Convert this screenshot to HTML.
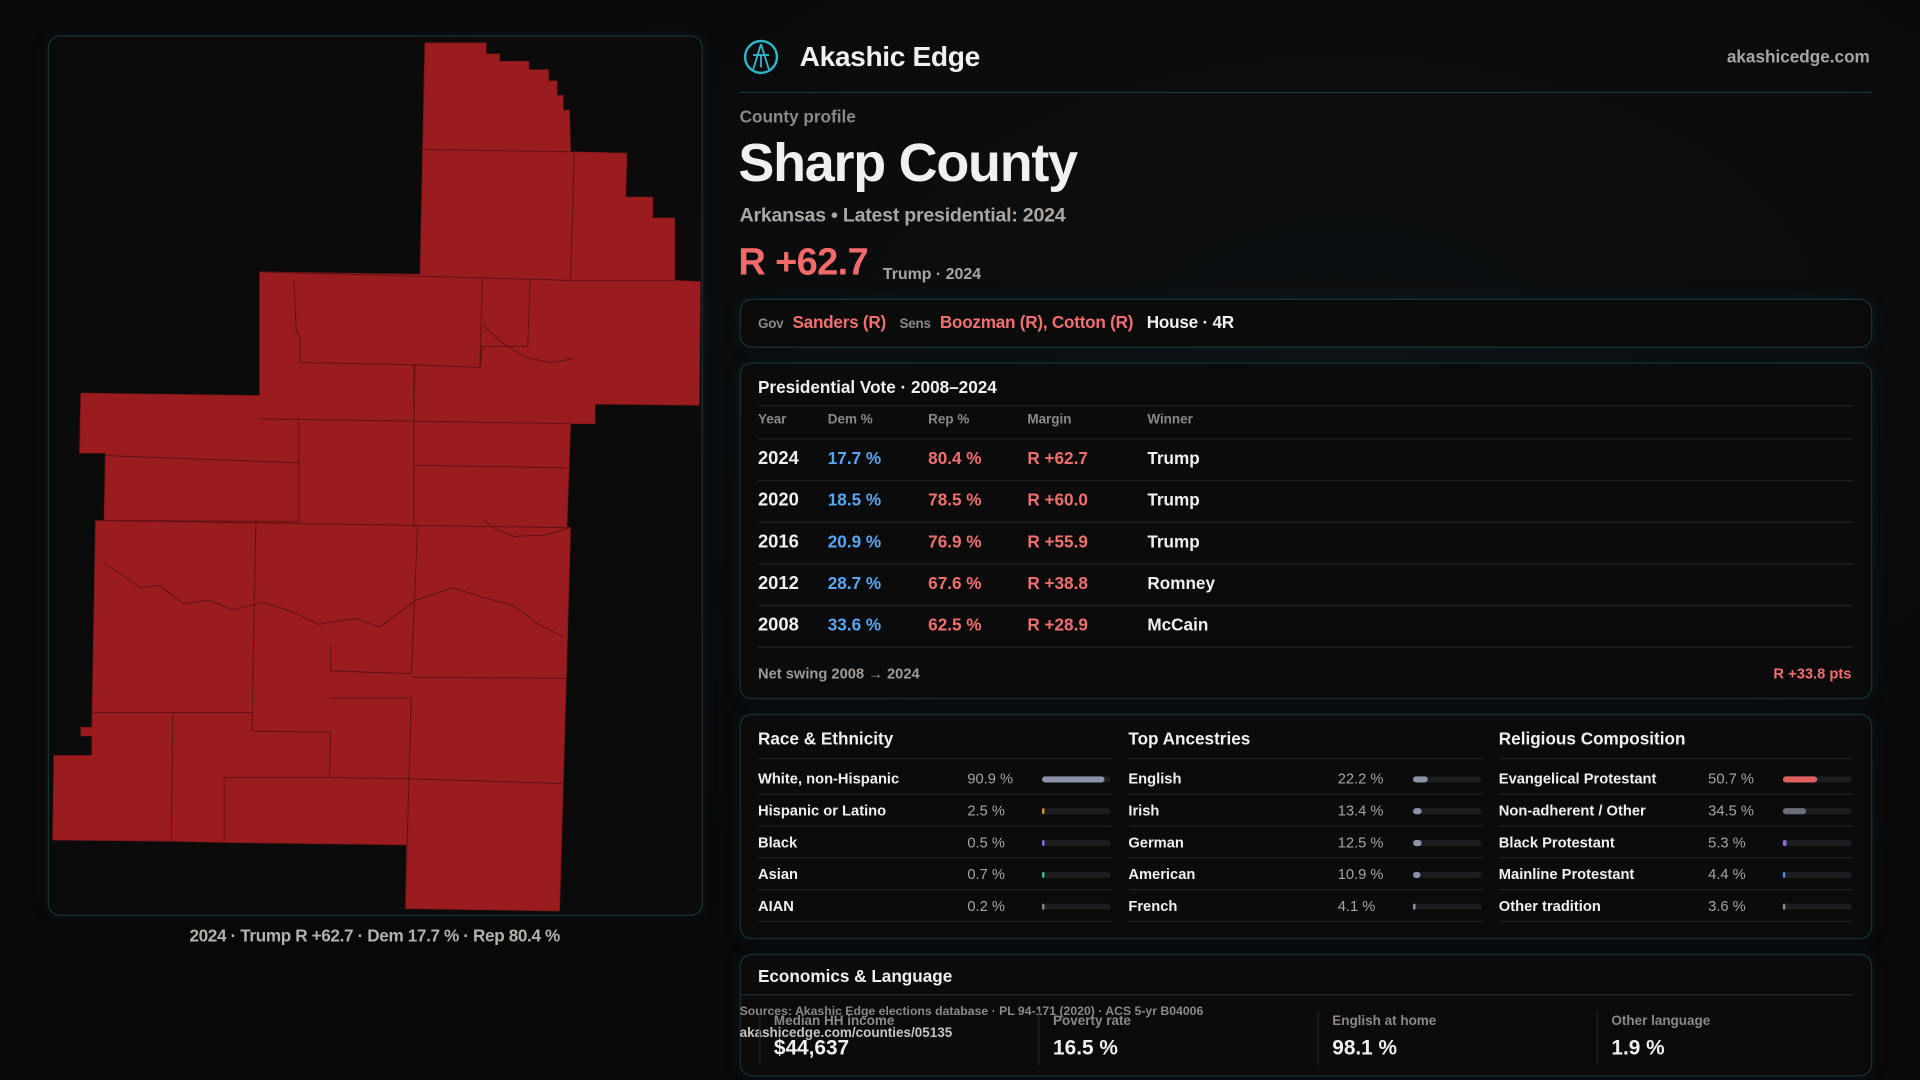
<!DOCTYPE html>
<html><head><meta charset="utf-8">
<style>
html,body{margin:0;padding:0;background:#080809;width:1920px;height:1080px;overflow:hidden}
#root{position:absolute;left:0;top:0;width:1568px;height:882px;transform:scale(1.22449);transform-origin:0 0;font-family:"Liberation Sans",sans-serif;color:#f2f0ee;background:radial-gradient(ellipse at 70% 30%,#0d1012 0%,#080809 60%)}
.abs{position:absolute;white-space:nowrap}
.panel{position:absolute;border:1px solid #163238;border-radius:10px;background:#0b0b0c;box-shadow:0 0 12px rgba(20,60,70,.25)}
.hr{position:absolute;height:1px;background:#1f2226}
.b{font-weight:bold}
.g{color:#8c8884}
.r{color:#f07070}
.bl{color:#5aa6f2}
</style></head><body>
<div id="root">
<div class="panel" style="left:39px;top:29px;width:533px;height:717px;background:#0b0b0c"></div>
<svg class="abs" style="left:0;top:0" width="620" height="760">
<polygon fill="#9a1c1f" stroke="#7a1618" stroke-width="0.6" points="347,35 397,35 397,44 408,44 408,50 432,50 432,57 448,57 448,66 455,66 455,78 460,78 460,90 465,90 466,124 512,125 511,161 533,161 533,178 551,178 551,229 572,230 571,331 486,330 486,346 466,346 463,430 466,431 460,640 457,744 331,742 332,690 183,688 140,687 43,686 44,617 75,617 75,601 66,601 66,594 75,594 78,425 85,425 86,370 65,370 66,321 212,323 212,222 343,224"/>
<g fill="none" stroke="#5e1315" stroke-width="0.8">
<polyline points="343,122 466,124"/><polyline points="469,124 466,229 551,229"/><polyline points="212,222 466,229"/>
<polyline points="394,226 392,300 338,298"/><polyline points="433,227 431,283 394,283 392,300"/>
<polyline points="212,342 338,344 339,298 245,296 245,276 242,270 240,230"/>
<polyline points="338,344 466,346"/><polyline points="338,298 338,430"/>
<polyline points="244,344 244,378 86,372"/><polyline points="244,378 244,426 78,425"/><polyline points="338,380 463,382"/>
<polyline points="78,425 466,431"/><polyline points="209,425 206,580"/><polyline points="341,430 336,550 270,548 270,527"/>
<polyline points="85,460 100,470 115,480 130,478 150,493 170,490 190,498 215,492 240,500 260,510 290,505 310,512 340,490 370,480 395,488 420,495 440,510 460,520"/>
<polyline points="75,582 206,582 206,597 270,598 269,635 183,635 183,688"/><polyline points="141,584 140,687"/>
<polyline points="270,570 336,570 334,636"/><polyline points="336,553 462,554"/><polyline points="270,635 334,636 461,640"/><polyline points="334,636 331,742"/>
<polyline points="395,425 405,432 420,438 445,437 466,431" /><polyline points="394,265 410,280 430,292 450,296 468,293"/>
</g>
</svg>
<div class="abs" style="left:0;width:612px;text-align:center;top:756px;font-size:14px;color:#b5b0aa;font-weight:bold;letter-spacing:-0.3px">2024 · Trump R +62.7 · Dem 17.7 % · Rep 80.4 %</div>

<svg class="abs" style="left:606px;top:31px" width="31" height="31"><circle cx="15.5" cy="15.5" r="13" fill="none" stroke="#2fb6c4" stroke-width="2"/><path d="M15.5 5 L9 26 M15.5 5 L22 26 M9 14 L22 14 M15.5 14 L15.5 24" stroke="#2fb6c4" stroke-width="1.5" fill="none"/></svg>
<div class="abs b" style="left:653px;top:33px;font-size:23px;letter-spacing:-0.3px">Akashic Edge</div>
<div class="abs b" style="right:41px;top:38px;font-size:14px;color:#a9a5a1">akashicedge.com</div>
<div class="hr" style="left:604px;top:75px;width:924px;background:#1b3940"></div>
<div class="abs b g" style="left:604px;top:87px;font-size:14px">County profile</div>
<div class="abs b" style="left:603px;top:109px;font-size:44px;letter-spacing:-1px">Sharp County</div>
<div class="abs b" style="left:604px;top:168px;font-size:16px;color:#aca6a1;letter-spacing:-0.2px">Arkansas • Latest presidential: 2024</div>
<div class="abs b r" style="left:603px;top:196px;font-size:31px;color:#f26a6a;letter-spacing:-0.5px">R +62.7</div>
<div class="abs b" style="left:721px;top:216px;font-size:13px;color:#aca6a1">Trump · 2024</div>

<div class="panel" style="left:604px;top:244px;width:923px;height:38px"></div>
<div class="abs" style="left:619px;top:255px;font-size:14px;font-weight:bold;letter-spacing:-0.2px"><span class="g" style="font-size:11px">Gov</span>&nbsp; <span class="r">Sanders (R)</span> &nbsp;&nbsp;<span class="g" style="font-size:11px">Sens</span>&nbsp; <span class="r">Boozman (R), Cotton (R)</span> &nbsp;&nbsp;<span>House · 4R</span></div>

<div class="panel" style="left:604px;top:296px;width:923px;height:273px"></div>
<div class="abs b" style="left:619px;top:308px;font-size:14px">Presidential Vote · 2008–2024</div>
<div class="hr" style="left:619px;top:331px;width:894px"></div>
<div id="ptable"></div>
<div class="hr" style="left:619px;top:528px;width:894px"></div>
<div class="abs b g" style="left:619px;top:543px;font-size:12px;color:#a09b96">Net swing 2008 → 2024</div>
<div class="abs b r" style="right:56px;top:543px;font-size:12px">R +33.8 pts</div>

<div class="panel" style="left:604px;top:583px;width:923px;height:182px"></div>
<div id="demo"></div>

<div class="panel" style="left:604px;top:779px;width:923px;height:98px"></div>
<div class="abs b" style="left:619px;top:789px;font-size:14px">Economics &amp; Language</div>
<div class="hr" style="left:604px;top:812px;width:909px;background:#1f2a2e"></div>
<div id="econ"></div>
<div class="abs b" style="left:604px;top:821px;font-size:10px;color:#8c8884">Sources: Akashic Edge elections database · PL 94-171 (2020) · ACS 5-yr B04006</div>
<div class="abs b" style="left:604px;top:838px;font-size:11px;color:#c8c4c0">akashicedge.com/counties/05135</div>
</div>
<script>
const years=["2024","2020","2016","2012","2008"];
const demPct=[17.7,18.5,20.9,28.7,33.6];
const repPct=[80.4,78.5,76.9,67.6,62.5];
const margins=["R +62.7","R +60.0","R +55.9","R +38.8","R +28.9"];
const winners=["Trump","Trump","Trump","Romney","McCain"];
const raceLabels=["White, non-Hispanic","Hispanic or Latino","Black","Asian","AIAN"];
const raceValues=[90.9,2.5,0.5,0.7,0.2];
const ancLabels=["English","Irish","German","American","French"];
const ancValues=[22.2,13.4,12.5,10.9,4.1];
const relLabels=["Evangelical Protestant","Non-adherent / Other","Black Protestant","Mainline Protestant","Other tradition"];
const relValues=[50.7,34.5,5.3,4.4,3.6];
const econLabels=["Median HH income","Poverty rate","English at home","Other language"];
const econValues=["$44,637","16.5 %","98.1 %","1.9 %"];
const root=document.getElementById('root');
function mk(txt,l,t,fs,col,bold){const d=document.createElement('div');d.className='abs';d.textContent=txt;d.style.left=l+'px';d.style.top=t+'px';d.style.fontSize=fs+'px';d.style.color=col;if(bold)d.style.fontWeight='bold';root.appendChild(d);return d;}
function line(l,t,w,c){const d=document.createElement('div');d.className='hr';d.style.left=l+'px';d.style.top=t+'px';d.style.width=w+'px';if(c)d.style.background=c;root.appendChild(d);return d;}
const hdr=["Year","Dem %","Rep %","Margin","Winner"],hx=[619,676,758,839,937];
hdr.forEach((h,i)=>{const e=mk(h,hx[i],337,11,'#8c8884',true);

});
line(619,358,894);
years.forEach((y,i)=>{const t=366+i*34;
const vals=[y,demPct[i].toFixed(1)+' %',repPct[i].toFixed(1)+' %',margins[i],winners[i]];
const cols=['#f2f0ee','#5aa6f2','#f07070','#f07070','#f2f0ee'];
vals.forEach((v,j)=>{const e=mk(v,hx[j],t,j==0?15:14,cols[j],true);

});
if(i<4){const l=line(619,t+26,894);}});
const sections=[["Race & Ethnicity",raceLabels,raceValues,['#8a94a6','#e0902a','#8a6ae0','#30c090','#888']],
["Top Ancestries",ancLabels,ancValues,['#8a94a6','#8a94a6','#8a94a6','#8a94a6','#8a94a6']],
["Religious Composition",relLabels,relValues,['#e06060','#6a6e78','#8a6ae0','#4a8ae0','#8a8a8a']]];
sections.forEach((s,k)=>{const x=619+k*302.5;
const tt=mk(s[0],x,595,14,'#f2f0ee',true);


line(x,619,289);
s[1].forEach((lab,i)=>{const t=629+i*26;
const a=mk(lab,x,t,12,'#f2f0ee',true);


const b=mk(s[2][i].toFixed(1)+' %',x+171,t,12,'#a8a39e',false);


const tr=document.createElement('div');tr.className='abs';tr.style.cssText=`left:${x+232}px;top:${t+5}px;width:56px;height:5px;border-radius:3px;background:#1c1d21`;


const f=document.createElement('div');f.style.cssText=`width:${Math.max(1.5,56*s[2][i]/100)}px;height:5px;border-radius:3px;background:${s[3][i]}`;


tr.appendChild(f);root.appendChild(tr);
line(x,t+19,289);});});
econLabels.forEach((l,i)=>{const x=620+i*228;
const d=document.createElement('div');d.className='abs';d.style.cssText=`left:${x}px;top:826px;width:1px;height:44px;background:#1f2226`;root.appendChild(d);
const a=mk(l,x+12,828,11,'#8c8884',true);


const b=mk(econValues[i],x+12,846,17,'#f2f0ee',true);

});
</script>
</body></html>
